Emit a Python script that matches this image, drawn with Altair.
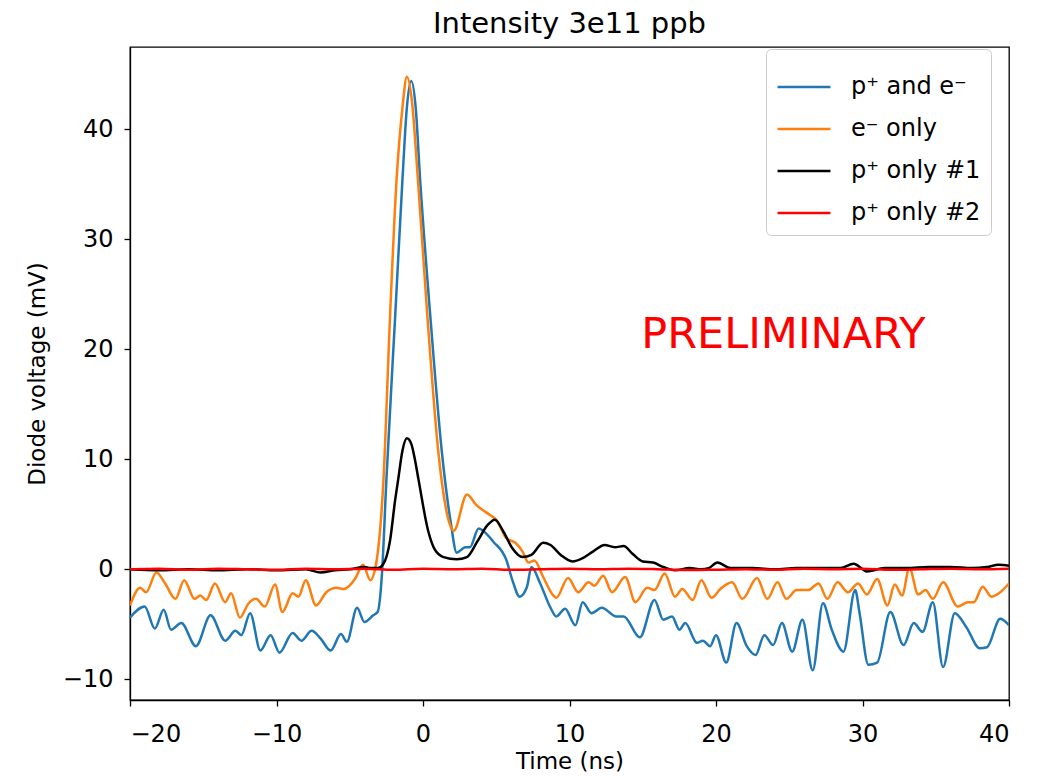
import altair as alt
import pandas as pd

# ---- data ----
series_names = ["p⁺ and e⁻", "e⁻ only", "p⁺ only #1", "p⁺ only #2"]
series_colors = ["#1f77b4", "#ff7f0e", "#000000", "#ff0000"]

blue_t = [-20.0, -19.0, -18.3, -17.7, -17.2, -16.5, -15.5, -14.5, -13.5, -12.8, -12.4, -11.8, -11.1, -10.4,
          -9.8, -8.9, -8.3, -7.6, -7.0, -6.3, -5.6, -5.2, -4.5, -4.0, -3.4, -3.1, -2.8, -2.5, -1.9, -1.4,
          -1.1, -0.8, -0.5, -0.2, 0.5, 1.3, 1.9, 2.3, 2.9, 3.2, 3.8, 4.1, 4.8, 5.7, 6.1, 6.6, 7.1, 7.4,
          8.0, 8.7, 9.1, 9.7, 10.4, 10.9, 11.5, 12.2, 13.2, 13.7, 14.8, 15.8, 16.4, 17.0, 17.5, 17.9, 18.7,
          19.1, 19.6, 20.0, 20.7, 21.4, 22.1, 22.7, 23.3, 23.9, 24.5, 25.2, 25.9, 26.6, 27.3, 27.9, 28.7,
          29.5, 29.8, 30.4, 31.0, 31.9, 32.8, 33.5, 34.1, 34.8, 35.5, 36.3, 37.1, 38.0, 38.5, 39.4, 40.0]
blue_v = [-4.4, -3.4, -5.4, -3.7, -5.5, -4.9, -7.0, -4.2, -6.5, -5.6, -6.0, -4.0, -7.4, -6.0,
          -7.6, -5.8, -6.5, -5.6, -6.3, -7.4, -5.9, -6.6, -3.5, -4.8, -4.2, -3.9, -0.4, 8.1, 23.0, 35.5,
          42.0, 44.4, 42.0, 35.5, 23.0, 10.5, 4.2, 1.5, 2.0, 2.0, 3.7, 3.5, 2.5, 0.8, -1.0, -2.5, -1.6, 0.2,
          -1.3, -3.5, -4.3, -3.6, -5.1, -3.0, -4.0, -3.5, -4.3, -4.3, -6.2, -2.8, -4.6, -4.3, -5.5, -4.9, -6.7,
          -6.5, -7.0, -6.0, -8.5, -4.9, -7.0, -7.8, -6.0, -6.9, -4.9, -7.5, -4.6, -9.2, -3.1, -5.5, -7.5,
          -1.9, -4.0, -8.7, -8.5, -3.9, -6.9, -4.9, -5.7, -3.0, -8.9, -4.0, -5.3, -7.2, -7.1, -4.5, -5.1]

orange_t = [-20.0, -19.3, -18.9, -18.2, -17.6, -16.9, -16.3, -15.6, -15.2, -14.8, -14.2, -13.5, -13.1, -12.5,
            -11.9, -11.4, -10.8, -10.1, -9.6, -8.9, -8.5, -8.0, -7.3, -6.6, -5.9, -5.4, -4.6, -4.1, -3.6, -3.2,
            -2.7, -2.25, -1.8, -1.4, -1.1, -0.75, -0.35, 0.3, 1.06, 1.8, 2.1, 3.0, 3.6, 4.6, 5.0, 5.7, 6.3,
            6.8, 7.2, 7.6, 8.2, 8.9, 9.1, 9.9, 10.6, 11.3, 11.7, 12.3, 12.9, 13.8, 14.5, 15.3, 15.8, 16.5,
            17.2, 17.7, 18.4, 19.0, 19.7, 20.3, 21.1, 21.8, 22.8, 23.5, 24.2, 24.8, 25.5, 26.3, 27.0, 27.6,
            28.3, 29.0, 29.7, 30.3, 31.0, 31.7, 32.2, 32.7, 33.2, 33.8, 34.3, 34.8, 35.5, 36.5, 37.2, 37.6,
            38.2, 38.8, 39.3, 40.0]
orange_v = [-3.3, -1.7, -2.1, -0.3, -1.3, -2.7, -1.0, -2.7, -2.4, -2.8, -1.3, -3.0, -2.2, -4.4,
            -3.1, -2.7, -3.4, -1.4, -3.9, -2.2, -2.5, -1.0, -3.3, -2.1, -1.7, -1.8, -0.8, 0.4, -1.0, 0.5,
            8.1, 23.0, 35.5, 42.0, 44.8, 42.5, 35.5, 23.0, 10.5, 4.2, 3.5, 6.8, 5.9, 4.9, 4.5, 2.8, 2.4,
            1.6, 0.6, 0.8, -0.7, -2.4, -2.6, -0.8, -2.1, -1.2, -1.5, -0.6, -2.1, -0.7, -3.0, -1.7, -1.9, -0.4,
            -2.5, -1.8, -2.8, -1.0, -2.6, -1.8, -1.2, -2.7, -0.8, -2.7, -1.2, -2.7, -1.9, -1.9, -1.3, -2.7,
            -1.2, -2.1, -1.3, -2.3, -0.9, -3.3, -1.4, -2.4, 0.1, -2.3, -1.9, -2.7, -1.2, -3.4, -3.0, -3.0,
            -1.6, -2.5, -2.2, -1.3]

black_t = [-20, -18, -16, -14, -12, -10, -8, -7, -6, -5, -4, -3.6, -3.1, -2.7, -2.25, -1.9, -1.7, -1.4,
           -1.1, -0.8, -0.6, -0.3, 0.35, 0.8, 1.4, 2.3, 3.0, 3.7, 4.4, 4.9, 5.5, 6.1, 6.8, 7.4, 8.2, 8.7,
           9.4, 10.2, 10.9, 11.6, 12.4, 13.1, 13.7, 14.3, 15.0, 15.7, 16.4, 17.2, 18.2, 19.0, 19.5, 20.1,
           21.0, 22.5, 24, 25.5, 27, 28.5, 29.4, 30.3, 31.5, 33, 34.5, 36, 37.5, 38.5, 39.3, 40]
black_v = [0.0, -0.1, 0.0, -0.1, 0.0, -0.1, 0.0, -0.3, -0.1, 0.0, 0.2, 0.1, 0.1, 0.5, 2.6, 6.3, 8.1, 10.8,
           11.9, 11.4, 10.3, 8.1, 3.5, 1.8, 1.1, 0.9, 1.1, 2.5, 4.0, 4.5, 3.4, 1.9, 1.1, 1.3, 2.4, 2.2,
           1.3, 0.7, 1.0, 1.6, 2.2, 2.0, 2.1, 1.4, 0.7, 0.6, 0.2, -0.1, 0.1, 0.0, 0.1, 0.6,
           0.1, 0.1, 0.0, 0.1, 0.1, 0.1, 0.5, -0.2, 0.1, 0.1, 0.2, 0.2, 0.1, 0.2, 0.4, 0.3]

red_t = [-20, -18, -16, -14, -12, -10, -8, -6, -4, -2, 0, 2, 4, 6, 8, 10, 12, 14, 16, 18, 20, 22, 24,
         26, 28, 30, 32, 34, 36, 38, 40]
red_v = [0.0, 0.05, -0.05, 0.05, 0.0, -0.05, 0.05, 0.0, 0.05, -0.05, 0.05, 0.0, 0.05, -0.05, 0.0, 0.05,
         0.0, 0.05, 0.0, -0.08, -0.05, 0.0, -0.05, 0.05, 0.0, 0.05, -0.05, 0.0, 0.05, 0.0, 0.05]

x_ticks = [-20, -10, 0, 10, 20, 30, 40]
y_ticks = [-10, 0, 10, 20, 30, 40]

annot_text = ["PRELIMINARY"]
annot_x = [24.6]
annot_y = [21.3]

FONT = "DejaVu Sans"

frames = []
for name, ts, vs in [(series_names[0], blue_t, blue_v), (series_names[1], orange_t, orange_v),
                     (series_names[2], black_t, black_v), (series_names[3], red_t, red_v)]:
    frames.append(pd.DataFrame({"t": ts, "v": vs, "series": name}))

x_enc = alt.X("t:Q", scale=alt.Scale(domain=[-20, 40], nice=False, zero=False),
              axis=alt.Axis(values=x_ticks, title="Time (ns)", format="d"))
y_enc = alt.Y("v:Q", scale=alt.Scale(domain=[-11.9, 47.5], nice=False, zero=False),
              axis=alt.Axis(values=y_ticks, title="Diode voltage (mV)", format="d"))
color_enc = alt.Color("series:N",
                      scale=alt.Scale(domain=series_names, range=series_colors),
                      legend=alt.Legend(title=None, orient="none", legendX=636, legendY=2,
                                        symbolType="M-1,0L1,0", symbolSize=2800, symbolStrokeWidth=2.5,
                                        labelFontSize=24, labelFont=FONT, labelColor="black",
                                        labelOffset=19, rowPadding=2, padding=10,
                                        strokeColor="#cccccc", fillColor="white", cornerRadius=5,
                                        labelLimit=400))

layers = []
for df in frames:
    layers.append(
        alt.Chart(df).mark_line(strokeWidth=2.5, interpolate="monotone", clip=True).encode(
            x=x_enc, y=y_enc, color=color_enc
        )
    )

annot = alt.Chart(pd.DataFrame({"x": annot_x, "y": annot_y, "label": annot_text})).mark_text(
    color="#ff0000", fontSize=43, font=FONT, align="center", baseline="middle"
).encode(x="x:Q", y="y:Q", text="label:N")

chart = alt.layer(*layers, annot).properties(
    width=879, height=653,
    background="white",
    title=alt.TitleParams("Intensity 3e11 ppb", fontSize=29, font=FONT, fontWeight="normal",
                          color="black", offset=8, anchor="middle"),
    autosize=alt.AutoSizeParams(type="none"),
    padding={"left": 130, "top": 47, "right": 37, "bottom": 76},
).configure_view(stroke="black", strokeWidth=1.3).configure_axis(
    grid=False, domainColor="black", domainWidth=1.3, tickColor="black", tickSize=6, tickWidth=1.3,
    labelFont=FONT, labelFontSize=24, labelColor="black",
    titleFont=FONT, titleFontSize=23, titleFontWeight="normal", titleColor="black",
).configure_axisX(labelPadding=16, titlePadding=4).configure_axisY(labelPadding=11, titlePadding=13)

chart.save("out.html", embed_options={"renderer": "svg", "actions": False})
